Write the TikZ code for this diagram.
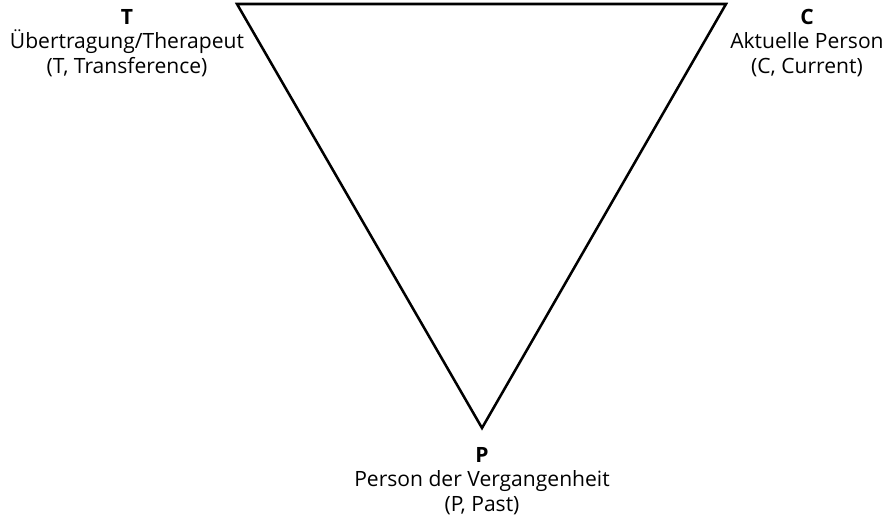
\documentclass[tikz,border=0pt]{standalone}
\usepackage{fontspec}
\setmainfont{Open Sans}
\usepackage{tikz}

\begin{document}
\begin{tikzpicture}[x=0.75pt, y=-0.75pt,
    every node/.style={font=\fontsize{15.8}{18.5}\selectfont},
    lbl/.style={align=center, inner sep=0pt}]
% ---------------- frame ----------------
\useasboundingbox (0,0) rectangle (889,525);

% ---------------- corners ----------------
\coordinate (T) at (237,4);
\coordinate (C) at (726,4);
\coordinate (P) at (482,428);

\draw[line width=1.9pt, line join=miter] (T) -- (C) -- (P) -- cycle;

% ---------------- labels ----------------
\node[lbl] (Tlab) at (127,43) {\textbf{T}\\Übertragung/Therapeut\\(T, Transference)};
\node[lbl] (Clab) at (807,43) {\textbf{C}\\Aktuelle Person\\(C, Current)};
\node[lbl] (Plab) at (482,481) {\textbf{P}\\Person der Vergangenheit\\(P, Past)};

\end{tikzpicture}
\end{document}
